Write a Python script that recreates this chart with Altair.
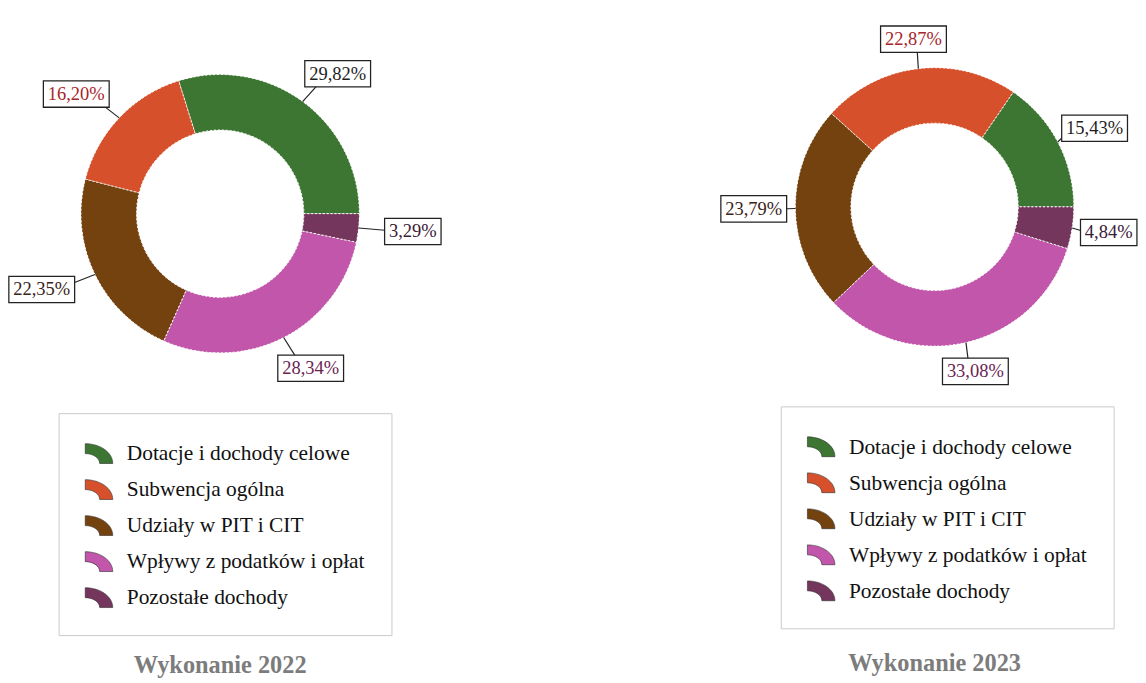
import altair as alt
import pandas as pd

# ---- data ----
categories = ["Dotacje i dochody celowe", "Subwencja ogólna", "Udziały w PIT i CIT",
              "Wpływy z podatków i opłat", "Pozostałe dochody"]
values_2022 = [29.82, 16.20, 22.35, 28.34, 3.29]
values_2023 = [15.43, 22.87, 23.79, 33.08, 4.84]
titles = ["Wykonanie 2022", "Wykonanie 2023"]

# ---- styles ----
slice_colors = ["#3c7632", "#d6512b", "#74420f", "#c156aa", "#74365c"]
text_colors = ["#1e1e1e", "#a8262a", "#3a2418", "#6a2452", "#3a2038"]
SERIF = "Liberation Serif"
R_IN, R_OUT = 86, 143
LEGEND_PATH = "M-1,-0.72 A2,1.44 0 0 1 1,0.72 L0.05,0.72 A1.05,0.72 0 0 0 -1,0 Z"


def make_df(values):
    n = len(categories)
    return pd.DataFrame({
        "cat": categories,
        "value": values,
        "ord": [n - 1 - i for i in range(n)],
        "label": [f"{v:.2f}".replace(".", ",") + "%" for v in values],
        "tcol": text_colors,
    })


def panel(values, title, W, H, lx, ly, rx, ry, title_offset):
    base = alt.Chart(make_df(values)).transform_joinaggregate(
        total="sum(value)"
    ).transform_window(
        cum="sum(value)", sort=[alt.SortField("ord")], frame=[None, 0]
    ).transform_calculate(
        a1="PI/2 + 2*PI*datum.cum/datum.total",
    ).transform_calculate(
        a0="datum.a1 - 2*PI*datum.value/datum.total",
    ).transform_calculate(
        mid="(datum.a0 + datum.a1)/2",
        bw="9.6*length(datum.label) + 10",
        bh="27",
    ).transform_calculate(
        ex=f"{R_OUT}*sin(datum.mid)", ey=f"{R_OUT}*cos(datum.mid)",
        ax=f"{rx}*sin(datum.mid)", ay=f"{ry}*cos(datum.mid)",
    ).transform_calculate(
        bx="datum.ax + datum.bw/2*sin(datum.mid)",
        by="datum.ay + datum.bh/2*cos(datum.mid)",
    ).transform_calculate(
        x1="datum.bx - datum.bw/2", x2="datum.bx + datum.bw/2",
        y1="datum.by - datum.bh/2", y2="datum.by + datum.bh/2",
    )

    xs = alt.Scale(domain=[-W / 2, W / 2], nice=False, zero=False)
    ys = alt.Scale(domain=[-H / 2, H / 2], nice=False, zero=False)

    arcs = base.mark_arc(innerRadius=R_IN, outerRadius=R_OUT, stroke="white",
                         strokeWidth=1, strokeDash=[2, 2]).encode(
        theta=alt.Theta("a0:Q", scale=None),
        theta2="a1:Q",
        color=alt.Color("cat:N", scale=alt.Scale(domain=categories, range=slice_colors),
                        legend=alt.Legend(
                            title=None, orient="none", legendX=lx, legendY=ly,
                            symbolType=LEGEND_PATH, symbolSize=800,
                            symbolStrokeColor="#2a2a2a", symbolStrokeWidth=0.6,
                            symbolOpacity=1,
                            labelFont=SERIF, labelFontSize=22, labelColor="#111",
                            labelOffset=14, labelLimit=400,
                            strokeColor="#c8c8c8", fillColor="white", padding=27,
                            rowPadding=11)),
    )
    leaders = base.mark_rule(color="#222", strokeWidth=1.2).encode(
        x=alt.X("ex:Q", scale=xs, axis=None), y=alt.Y("ey:Q", scale=ys, axis=None),
        x2="ax:Q", y2="ay:Q",
    )
    boxes = base.mark_rect(fill="white", stroke="#222", strokeWidth=1.3).encode(
        x=alt.X("x1:Q", scale=xs, axis=None), x2="x2:Q",
        y=alt.Y("y1:Q", scale=ys, axis=None), y2="y2:Q",
    )
    texts = base.mark_text(font=SERIF, fontSize=19, baseline="middle", align="center").encode(
        x=alt.X("bx:Q", scale=xs, axis=None), y=alt.Y("by:Q", scale=ys, axis=None),
        text="label:N", color=alt.Color("tcol:N", scale=None),
    )
    return alt.layer(arcs, leaders, boxes, texts).properties(
        width=W, height=H,
        title=alt.TitleParams(title, orient="bottom", anchor="middle", frame="group",
                              font=SERIF, fontSize=25, fontWeight="bold",
                              color="#7c7c7c", offset=title_offset),
    )


left = panel(values_2022, titles[0], 436, 404, 52, 407, 170, 165, 18)
right = panel(values_2023, titles[1], 398, 390, 41, 400, 152, 160, 23)

chart = alt.hconcat(left, right, spacing=285).resolve_scale(
    color="independent"
).properties(padding=0).configure_view(stroke=None)

chart.save("out.html", embed_options={"renderer": "svg", "actions": False})
